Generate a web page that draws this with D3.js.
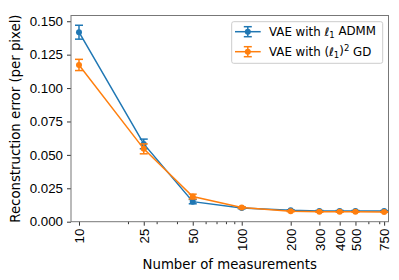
<!DOCTYPE html>
<html>
<head>
<meta charset="utf-8">
<script src="https://cdn.jsdelivr.net/npm/d3@7"></script>
<style>
  body { margin: 0; background: #fff; }
  svg { display: block; font-family: "DejaVu Sans", sans-serif; }
</style>
</head>
<body>
<svg id="chart" width="399" height="280"></svg>
<script>
// data
const measurements = [10, 25, 50, 100, 200, 300, 400, 500, 750];
const admmMean = [0.1418, 0.0582, 0.0150, 0.0103, 0.0085, 0.0081, 0.0081, 0.0081, 0.0080];
const admmStd  = [0.0052, 0.0036, 0.0016, 0.0006, 0.0004, 0.0003, 0.0003, 0.0003, 0.0003];
const gdMean   = [0.1173, 0.0545, 0.0188, 0.0106, 0.0079, 0.0074, 0.0074, 0.0074, 0.0073];
const gdStd    = [0.0042, 0.0037, 0.0018, 0.0006, 0.0004, 0.0003, 0.0003, 0.0003, 0.0003];
const yTicks = [0, 0.025, 0.05, 0.075, 0.1, 0.125, 0.15];
const xMinorTicks = [20, 30, 40, 60, 70, 80, 90, 600, 700];

const series = [
  { name: 'admm', color: '#1f77b4', mean: admmMean, std: admmStd },
  { name: 'gd', color: '#ff7f0e', mean: gdMean, std: gdStd }
];

const area = { left: 71, right: 388.5, top: 15.5, bottom: 221.7 };
const svg = d3.select('#chart');

const x = d3.scaleLog().domain([8.93, 798]).range([area.left, area.right]);
const y = d3.scaleLinear().domain([0, 0.1543]).range([area.bottom, area.top]);

// axes
const xAxis = svg.append('g')
  .attr('transform', `translate(0,${area.bottom})`)
  .call(d3.axisBottom(x).tickValues(measurements).tickFormat(d3.format('d')).tickSize(4).tickPadding(3));
xAxis.selectAll('text')
  .attr('transform', 'rotate(-90)')
  .attr('text-anchor', 'end')
  .attr('x', -7)
  .attr('y', 0)
  .attr('dy', '0.35em')
  .style('font-size', '13.3px')
  .style('fill', '#000');

svg.append('g')
  .attr('transform', `translate(0,${area.bottom})`)
  .call(d3.axisBottom(x).tickValues(xMinorTicks).tickFormat('').tickSize(2.5))
  .call(g => g.select('.domain').remove());

svg.append('g')
  .attr('transform', `translate(${area.left},0)`)
  .call(d3.axisLeft(y).tickValues(yTicks).tickFormat(d3.format('.3f')).tickSize(4).tickPadding(4))
  .selectAll('text')
  .style('font-size', '13.3px')
  .style('fill', '#000');

svg.selectAll('.domain').remove();
svg.selectAll('.tick line').attr('stroke', '#333');

// frame
svg.append('rect')
  .attr('x', area.left)
  .attr('y', area.top)
  .attr('width', area.right - area.left)
  .attr('height', area.bottom - area.top)
  .attr('fill', 'none')
  .attr('stroke', '#777')
  .attr('stroke-width', 1);

// series
const line = d3.line().x(d => x(d[0])).y(d => y(d[1]));
const cap = 4;

series.forEach(s => {
  const pts = measurements.map((m, i) => [m, s.mean[i], s.std[i]]);
  const g = svg.append('g');

  g.append('path')
    .datum(pts)
    .attr('d', line)
    .attr('fill', 'none')
    .attr('stroke', s.color)
    .attr('stroke-width', 1.5);

  const eb = g.selectAll('.eb').data(pts).enter().append('g');
  eb.append('line')
    .attr('x1', d => x(d[0])).attr('x2', d => x(d[0]))
    .attr('y1', d => y(d[1] - d[2])).attr('y2', d => y(d[1] + d[2]))
    .attr('stroke', s.color).attr('stroke-width', 1.5);
  [-1, 1].forEach(sign => {
    eb.append('line')
      .attr('x1', d => x(d[0]) - cap).attr('x2', d => x(d[0]) + cap)
      .attr('y1', d => y(d[1] + sign * d[2])).attr('y2', d => y(d[1] + sign * d[2]))
      .attr('stroke', s.color).attr('stroke-width', 1.5);
  });

  g.selectAll('circle').data(pts).enter().append('circle')
    .attr('cx', d => x(d[0]))
    .attr('cy', d => y(d[1]))
    .attr('r', 3)
    .attr('fill', s.color);
});

// axis labels
svg.append('text')
  .attr('x', (area.left + area.right) / 2)
  .attr('y', 269)
  .attr('text-anchor', 'middle')
  .style('font-size', '13.3px')
  .text('Number of measurements');

svg.append('text')
  .attr('transform', `translate(20,${(area.top + area.bottom) / 2}) rotate(-90)`)
  .attr('text-anchor', 'middle')
  .style('font-size', '13.3px')
  .text('Reconstruction error (per pixel)');

// legend
const legend = svg.append('g');
legend.append('rect')
  .attr('x', 231.7).attr('y', 21.7)
  .attr('width', 151).attr('height', 41.6)
  .attr('rx', 2)
  .attr('fill', '#fff').attr('fill-opacity', 0.8)
  .attr('stroke', '#ccc');

const rows = legend.selectAll('.row').data(series).enter().append('g')
  .attr('transform', (d, i) => `translate(0,${31.7 + i * 20})`);
rows.append('line')
  .attr('x1', 235).attr('x2', 260.7).attr('y1', 0).attr('y2', 0)
  .attr('stroke', d => d.color).attr('stroke-width', 1.5);
rows.append('line')
  .attr('x1', 247.8).attr('x2', 247.8).attr('y1', -5).attr('y2', 5)
  .attr('stroke', d => d.color).attr('stroke-width', 1.5);
[-5, 5].forEach(off => {
  rows.append('line')
    .attr('x1', 247.8 - cap).attr('x2', 247.8 + cap).attr('y1', off).attr('y2', off)
    .attr('stroke', d => d.color).attr('stroke-width', 1.5);
});
rows.append('circle')
  .attr('cx', 247.8).attr('cy', 0).attr('r', 3)
  .attr('fill', d => d.color);

const texts = rows.append('text')
  .attr('x', 269).attr('y', 0).attr('dy', '0.35em')
  .style('font-size', '11.8px');
texts.each(function(d) {
  const t = d3.select(this);
  t.append('tspan').text('VAE with ');
  if (d.name === 'admm') {
    t.append('tspan').style('font-style', 'italic').text('ℓ');
    t.append('tspan').attr('dy', '0.25em').style('font-size', '8.5px').text('1');
    t.append('tspan').attr('dy', '-0.25em').text(' ADMM');
  } else {
    t.append('tspan').text('(');
    t.append('tspan').style('font-style', 'italic').text('ℓ');
    t.append('tspan').attr('dy', '0.25em').style('font-size', '8.5px').text('1');
    t.append('tspan').attr('dy', '-0.25em').text(')');
    t.append('tspan').attr('dy', '-0.45em').style('font-size', '8.5px').text('2');
    t.append('tspan').attr('dy', '0.45em').text(' GD');
  }
});
</script>
</body>
</html>
